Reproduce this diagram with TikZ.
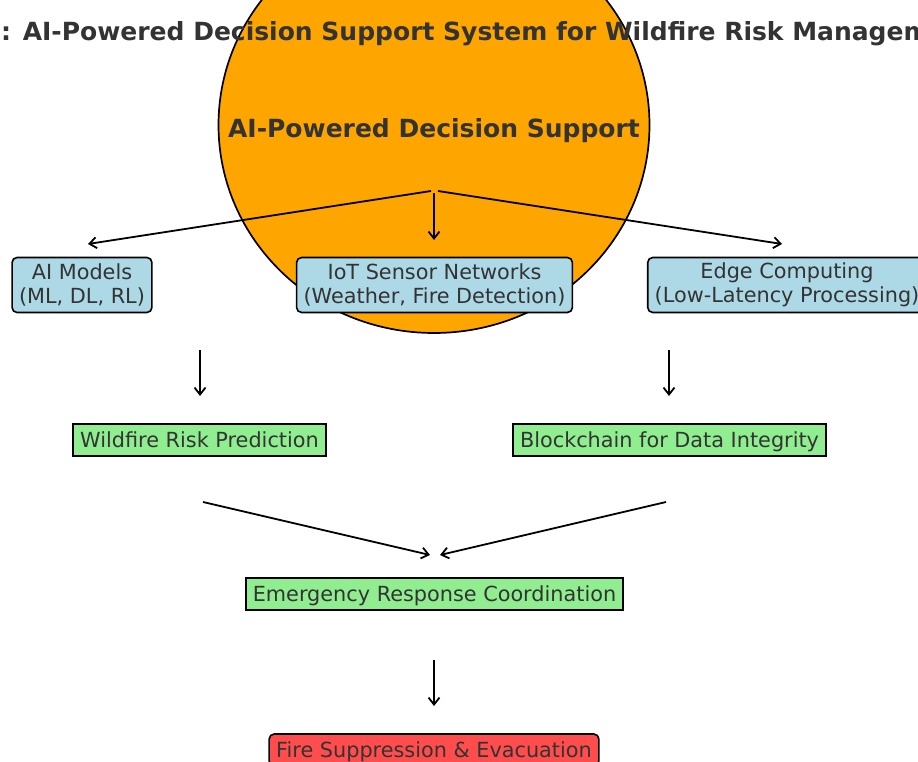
\documentclass[tikz,border=0pt]{standalone}
\usepackage{fontspec}
\setmainfont{DejaVu Sans}
\usetikzlibrary{arrows.meta,shapes.geometric}
\definecolor{txt}{HTML}{333333}
\definecolor{hubfill}{HTML}{FFA500}
\definecolor{bluefill}{HTML}{ADD8E6}
\definecolor{greenfill}{HTML}{90EE90}
\definecolor{redfill}{HTML}{FF4D4D}
\begin{document}
\begin{tikzpicture}[x=1pt,y=-1pt,
  base/.style={draw=black, line width=1.6pt, text=txt, font=\fontsize{20.8}{24}\selectfont, inner xsep=7pt},
  bluebox/.style={base, fill=bluefill, rounded corners=5pt, align=center, minimum height=55pt, inner ysep=4pt},
  greenbox/.style={base, fill=greenfill, text height=17pt, text depth=3pt, inner ysep=6pt},
  redbox/.style={greenbox, fill=redfill, rounded corners=5pt},
  bigtext/.style={text=txt, font=\bfseries\fontsize{25}{30}\selectfont, inner sep=0pt},
  arr/.style={-{Straight Barb[length=7pt,width=11pt]}, line width=1.8pt, draw=black}]
\useasboundingbox (0,0) rectangle (918,762);
\clip (0,0) rectangle (918,762);
\node[ellipse, draw=black, fill=hubfill, line width=1.7pt, minimum width=431pt, minimum height=416pt, inner sep=0pt] (hub) at (434,125) {};
\node[bigtext, anchor=base west] (title) at (1,41) {: AI-Powered Decision Support System for Wildfire Risk Management};
\node[bigtext] (hubtext) at (434,131) {AI-Powered Decision Support};

\node[bluebox] (ai) at (82,285) {AI Models\\(ML, DL, RL)};
\node[bluebox] (iot) at (434.5,285) {IoT Sensor Networks\\(Weather, Fire Detection)};
\node[bluebox] (edge) at (787,285) {Edge Computing\\(Low-Latency Processing)};

\node[greenbox] (risk) at (199.5,440) {Wildfire Risk Prediction};
\node[greenbox] (chain) at (669.5,440) {Blockchain for Data Integrity};
\node[greenbox] (emer) at (434.5,594) {Emergency Response Coordination};
\node[redbox] (fire) at (434,750) {Fire Suppression \& Evacuation};

\coordinate (srcl) at (431,191);
\coordinate (srcm) at (434,193);
\coordinate (srcr) at (438,191);
\coordinate (t1) at (88,244);
\coordinate (t2) at (434,240);
\coordinate (t3) at (782,244);
\draw[arr] (srcl) -- (t1);
\draw[arr] (srcm) -- (t2);
\draw[arr] (srcr) -- (t3);

\coordinate (r1s) at (200,350);
\coordinate (r1e) at (200,396);
\coordinate (r2s) at (669,350);
\coordinate (r2e) at (669,396);
\draw[arr] (r1s) -- (r1e);
\draw[arr] (r2s) -- (r2e);

\coordinate (m1s) at (203,502);
\coordinate (m1e) at (430,555);
\coordinate (m2s) at (666,502);
\coordinate (m2e) at (440,555);
\draw[arr] (m1s) -- (m1e);
\draw[arr] (m2s) -- (m2e);

\coordinate (f1s) at (434,660);
\coordinate (f1e) at (434,706);
\draw[arr] (f1s) -- (f1e);
\end{tikzpicture}
\end{document}
